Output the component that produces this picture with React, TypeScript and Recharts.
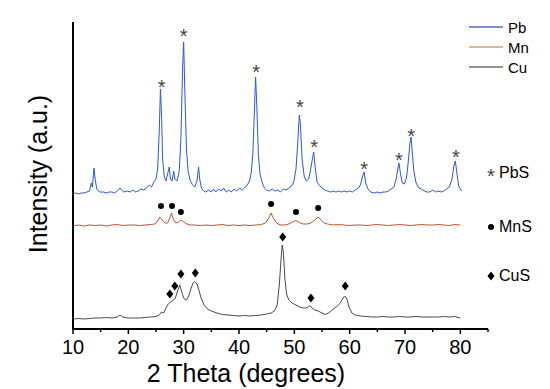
import React from 'react';
import {
  ComposedChart,
  Line,
  Scatter,
  XAxis,
  YAxis,
  Label,
  Legend,
} from 'recharts';

// 2 theta (deg) vs stacked intensity (a.u.)
const pbPattern: [number, number][] = [
  [10, 135], [10.5, 136], [11, 135], [11.5, 136], [12, 136], [12.5, 137], [13, 138],
  [13.3, 146], [13.5, 142], [13.8, 161], [14.0, 150], [14.3, 140], [14.8, 137],
  [15.5, 137], [16, 136], [16.5, 137], [17, 137], [17.5, 136], [18, 138], [18.5, 141],
  [18.8, 139], [19.2, 137], [19.8, 138], [20.3, 137], [20.8, 139], [21.3, 137],
  [21.8, 138], [22.3, 140], [22.8, 139], [23.3, 141], [23.8, 144], [24.2, 142],
  [24.6, 147], [25.0, 150], [25.3, 160], [25.6, 200], [25.8, 240], [26.0, 215],
  [26.2, 170], [26.5, 152], [26.8, 148], [27.1, 155], [27.4, 162], [27.6, 150],
  [27.9, 148], [28.2, 158], [28.4, 150], [28.8, 148], [29.2, 158], [29.5, 190],
  [29.8, 260], [30.0, 287], [30.2, 240], [30.5, 180], [30.8, 158], [31.2, 148],
  [31.6, 144], [32.0, 142], [32.4, 148], [32.7, 162], [32.9, 150], [33.2, 141],
  [33.6, 138], [34, 137], [34.5, 139], [35, 137], [35.4, 140], [35.8, 137],
  [36.3, 140], [36.8, 138], [37.2, 141], [37.7, 137], [38.2, 139], [38.6, 137],
  [39.1, 140], [39.6, 138], [40.1, 141], [40.6, 139], [41.0, 141], [41.5, 144],
  [41.9, 148], [42.2, 156], [42.5, 175], [42.8, 220], [43.0, 252], [43.2, 225],
  [43.5, 175], [43.8, 155], [44.2, 146], [44.6, 141], [45.0, 139], [45.5, 138],
  [46, 140], [46.5, 138], [47, 139], [47.5, 137], [48, 140], [48.5, 139], [49, 141],
  [49.5, 143], [49.9, 147], [50.3, 160], [50.6, 185], [50.9, 214], [51.1, 205],
  [51.4, 170], [51.8, 152], [52.2, 148], [52.6, 150], [52.9, 158], [53.2, 168],
  [53.5, 177], [53.8, 160], [54.1, 147], [54.5, 144], [55, 141], [55.5, 139],
  [56, 138], [56.5, 137], [57, 138], [57.5, 137], [58, 138], [58.5, 137], [59, 138],
  [59.5, 137], [60, 138], [60.5, 137], [61, 139], [61.6, 141], [62.0, 145],
  [62.3, 152], [62.6, 157], [62.9, 146], [63.3, 140], [63.8, 137], [64.5, 136],
  [65, 137], [65.5, 136], [66, 137], [66.5, 137], [67, 138], [67.5, 140], [68.0, 142],
  [68.4, 150], [68.7, 160], [68.9, 166], [69.2, 155], [69.5, 146], [69.9, 145],
  [70.3, 152], [70.6, 168], [70.9, 186], [71.1, 192], [71.3, 178], [71.6, 158],
  [72.0, 146], [72.5, 141], [73, 140], [73.5, 138], [74, 137], [74.5, 137], [75, 139],
  [75.5, 137], [76, 138], [76.5, 137], [77, 138], [77.5, 140], [78, 142], [78.5, 150],
  [78.8, 162], [79.1, 168], [79.4, 155], [79.7, 143], [80.2, 138],
];

const mnPattern: [number, number][] = [
  [10, 103], [11, 104], [12, 103], [13, 104], [14, 103.5], [15, 104], [16, 103],
  [17, 104], [18, 104.5], [19, 103.5], [20, 104], [21, 104], [22, 103.5], [23, 104],
  [24, 104.5], [24.8, 105], [25.3, 108], [25.7, 112], [26.1, 109], [26.6, 106],
  [27.1, 106], [27.5, 111], [27.8, 116], [28.1, 110], [28.6, 106], [29.1, 107],
  [29.5, 109], [30.0, 107], [30.6, 105], [31.2, 104], [32, 104], [33, 103.5], [34, 104],
  [35, 103.5], [36, 104], [37, 104.5], [38, 103.5], [39, 104], [40, 103.5], [41, 104],
  [42, 103.5], [43, 104], [44, 104.5], [44.8, 106], [45.4, 111], [45.8, 116],
  [46.2, 111], [46.8, 106], [47.5, 104], [48.3, 104], [49.0, 105], [49.7, 107],
  [50.3, 108.5], [50.9, 106.5], [51.6, 105], [52.3, 105], [53.0, 106], [53.7, 109],
  [54.3, 112], [54.8, 109], [55.4, 106], [56, 105], [57, 104], [58, 104.5], [59, 104],
  [60, 103.5], [61, 104], [62, 104], [63, 103.5], [64, 104], [65, 104.5], [66, 104],
  [67, 103.5], [68, 104], [69, 104.5], [70, 104], [71, 103.5], [72, 104], [73, 104.5],
  [74, 104], [75, 104], [76, 104.5], [77, 104], [78, 103.5], [79, 104.5], [80, 104],
];

const cuPattern: [number, number][] = [
  [10, 10], [11, 10.5], [12, 10], [13, 10.5], [14, 11], [15, 11], [16, 11.5], [17, 11],
  [18, 12], [18.5, 14], [19, 12], [20, 11], [21, 11], [22, 11], [23, 11.5], [24, 12],
  [25, 12.5], [25.6, 14], [26.0, 17], [26.4, 16], [26.8, 21], [27.2, 25], [27.6, 27],
  [28.0, 28], [28.5, 31], [28.9, 38], [29.3, 44], [29.7, 36], [30.1, 30], [30.5, 29],
  [30.9, 33], [31.3, 40], [31.7, 46], [32.0, 47.5], [32.4, 45], [32.8, 38], [33.2, 30],
  [33.7, 24], [34.3, 20], [35, 18], [36, 16], [37, 14.5], [38, 14], [39, 13.5], [40, 13],
  [41, 13.5], [42, 13], [43, 13.5], [44, 14], [45, 15], [45.8, 16], [46.4, 18],
  [46.9, 24], [47.3, 45], [47.6, 70], [47.8, 84], [48.0, 78], [48.3, 50], [48.6, 35],
  [49.0, 29], [49.6, 26], [50.3, 24], [51.0, 22], [51.6, 21], [52.1, 21], [52.5, 22],
  [52.8, 23.5], [53.2, 21], [53.7, 19], [54.3, 18], [55.0, 16], [55.6, 14.5],
  [56.2, 16], [56.8, 19], [57.3, 21], [57.8, 23], [58.3, 26], [58.8, 31], [59.1, 33],
  [59.5, 30], [59.9, 22], [60.4, 16], [61, 14], [62, 13], [63, 12.5], [64, 12],
  [65, 12], [66, 12.5], [67, 12], [68, 12], [69, 12.5], [70, 12], [71, 12], [72, 12.5],
  [73, 12], [74, 12], [75, 12], [76, 12], [77, 12.5], [78, 12], [79, 12.5], [80, 11],
];

// phase markers above the peaks
const pbsMarks: [number, number][] = [
  [26.0, 246], [30.0, 297], [43.1, 261], [51.0, 226], [53.6, 186],
  [62.6, 164], [68.9, 173], [71.1, 197], [79.2, 176],
];
const mnsMarks: [number, number][] = [
  [25.9, 123], [27.9, 123], [29.5, 117], [45.8, 125], [50.3, 117], [54.3, 121],
];
const cusMarks: [number, number][] = [
  [27.5, 35], [28.4, 43], [29.5, 55], [32.1, 56], [47.9, 92], [53.0, 31], [59.2, 43],
];

const seriesNames = ['Pb', 'Mn', 'Cu'];
const seriesColors = ['#2f56d6', '#c4502e', '#4a4a4a'];
const legendColors = ['#4a6ed0', '#d0a07c', '#707070'];
const phaseNames = ['PbS', 'MnS', 'CuS'];
const xTicks = [10, 15, 20, 25, 30, 35, 40, 45, 50, 55, 60, 65, 70, 75, 80, 85];

const toRows = (pairs: [number, number][]) => pairs.map(([x, y]) => ({ x, y }));

const FONT = '"Liberation Sans", Arial, sans-serif';

const AsteriskMark = (props: any) => (
  <text x={props.cx} y={props.cy + 11} textAnchor="middle" fontSize={20} fill="#444" fontFamily={FONT}>
    *
  </text>
);
const DotMark = (props: any) => <circle cx={props.cx} cy={props.cy} r={3} fill="#000" />;
const DiamondMark = (props: any) => {
  const { cx, cy } = props;
  return <polygon points={`${cx},${cy - 4.5} ${cx + 3.5},${cy} ${cx},${cy + 4.5} ${cx - 3.5},${cy}`} fill="#000" />;
};

const AxisTick = (props: any) => {
  const { x, y, payload } = props;
  const v = payload.value;
  const major = v % 10 === 0;
  return (
    <g>
      <line x1={x} x2={x} y1={y} y2={y + (major ? 5 : 3)} stroke="#000" strokeWidth={1.5} />
      {major && (
        <text x={x} y={y + 18} textAnchor="middle" dominantBaseline="central" fontSize={20} fill="#000" fontFamily={FONT}>
          {v}
        </text>
      )}
    </g>
  );
};

const markSymbols = [
  <span style={{ fontSize: 20, lineHeight: '20px', color: '#444', position: 'relative', top: 3 }}>*</span>,
  <svg width={8} height={8}><circle cx={4} cy={4} r={3} fill="#000" /></svg>,
  <svg width={8} height={10}><polygon points="4,0.5 7.5,5 4,9.5 0.5,5" fill="#000" /></svg>,
];

const LegendBlock = () => (
  <div style={{ position: 'relative', width: 550, height: 389, fontFamily: FONT, color: '#000' }}>
    {seriesNames.map((name, i) => (
      <div key={name} style={{ position: 'absolute', left: 469, top: [27, 47, 67][i] - 10, height: 20, display: 'flex', alignItems: 'center' }}>
        <svg width={34} height={4}>
          <line x1={0} x2={34} y1={2} y2={2} stroke={legendColors[i]} strokeWidth={1.5} />
        </svg>
        <span style={{ marginLeft: 5, fontSize: 15 }}>{name}</span>
      </div>
    ))}
    {phaseNames.map((name, i) => (
      <div key={name} style={{ position: 'absolute', left: 486, top: [173, 227, 276][i] - 10, height: 20, display: 'flex', alignItems: 'center' }}>
        <div style={{ width: 10, height: 20, display: 'flex', justifyContent: 'center', alignItems: 'center' }}>
          {markSymbols[i]}
        </div>
        <span style={{ marginLeft: 3, fontSize: 16 }}>{name}</span>
      </div>
    ))}
  </div>
);

const App: React.FC = () => {
  const patterns = [pbPattern, mnPattern, cuPattern];
  return (
    <div style={{ position: 'absolute', left: 0, top: 0, width: 550, height: 389, background: '#fff' }}>
      <ComposedChart width={550} height={389} margin={{ top: 22, right: 62, bottom: 0, left: 0 }}>
        <XAxis
          type="number"
          dataKey="x"
          domain={[10, 85]}
          ticks={xTicks}
          interval={0}
          tickSize={0}
          tickMargin={0}
          tickLine={false}
          tick={<AxisTick />}
          height={60}
          axisLine={{ stroke: '#000', strokeWidth: 2 }}
          allowDataOverflow
        >
          <Label
            content={({ viewBox }: any) => (
              <text
                x={viewBox.x + 173}
                y={viewBox.y + 44}
                textAnchor="middle"
                dominantBaseline="central"
                fontSize={25}
                fill="#000"
                fontFamily={FONT}
              >
                2 Theta (degrees)
              </text>
            )}
          />
        </XAxis>
        <YAxis
          type="number"
          dataKey="y"
          domain={[0, 307]}
          width={73}
          tick={false}
          tickLine={false}
          axisLine={{ stroke: '#000', strokeWidth: 2 }}
          allowDataOverflow
        >
          <Label
            content={() => (
              <text
                x={38}
                y={174}
                transform="rotate(-90, 38, 174)"
                textAnchor="middle"
                dominantBaseline="central"
                fontSize={25}
                fill="#000"
                fontFamily={FONT}
              >
                Intensity (a.u.)
              </text>
            )}
          />
        </YAxis>
        <Legend
          layout="horizontal"
          verticalAlign="middle"
          align="center"
          wrapperStyle={{ left: 0, top: 0, width: 550, height: 389, pointerEvents: 'none' }}
          content={() => <LegendBlock />}
        />
        {patterns.map((p, i) => (
          <Line
            key={seriesNames[i]}
            name={seriesNames[i]}
            data={toRows(p)}
            dataKey="y"
            type="linear"
            stroke={seriesColors[i]}
            strokeWidth={1}
            dot={false}
            activeDot={false}
            isAnimationActive={false}
          />
        ))}
        <Scatter name="PbS" data={toRows(pbsMarks)} dataKey="y" shape={<AsteriskMark />} isAnimationActive={false} />
        <Scatter name="MnS" data={toRows(mnsMarks)} dataKey="y" shape={<DotMark />} isAnimationActive={false} />
        <Scatter name="CuS" data={toRows(cusMarks)} dataKey="y" shape={<DiamondMark />} isAnimationActive={false} />
      </ComposedChart>
    </div>
  );
};

export default App;
